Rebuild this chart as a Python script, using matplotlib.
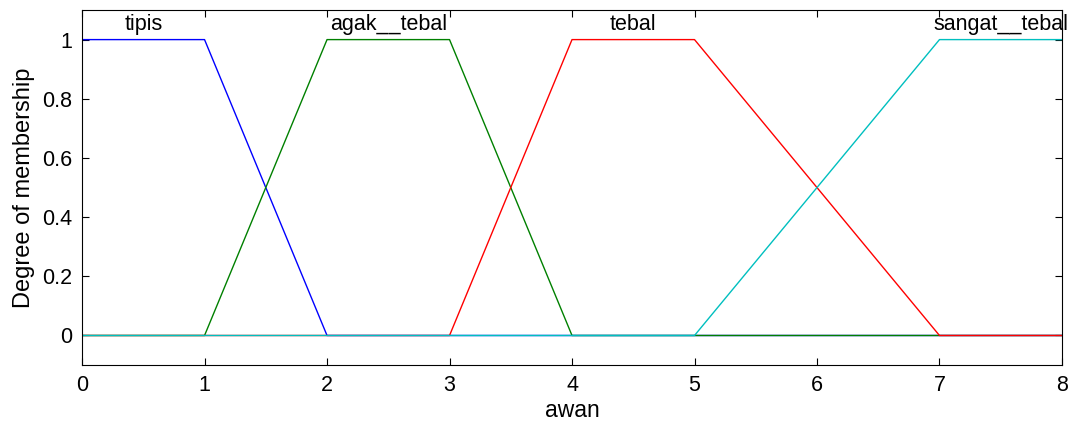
import matplotlib
matplotlib.use("Agg")
import matplotlib.pyplot as plt

plt.rcParams['font.family'] = ['Liberation Sans', 'DejaVu Sans']

# fungsi keanggotaan trapesium (titik sudut)
nama = ['tipis', 'agak__tebal', 'tebal', 'sangat__tebal']
x_tipis = [0, 1, 2, 8]
y_tipis = [1, 1, 0, 0]
x_agak = [0, 1, 2, 3, 4, 8]
y_agak = [0, 0, 1, 1, 0, 0]
x_tebal = [0, 3, 4, 5, 7, 8]
y_tebal = [0, 0, 1, 1, 0, 0]
x_sangat = [0, 5, 7, 8]
y_sangat = [0, 0, 1, 1]
pusat = [0.5, 2.5, 4.5, 7.5]

warna = ['#0000ff', '#008000', '#ff0000', '#00bfbf']

fig = plt.figure(figsize=(10.74, 4.26), dpi=100)
ax = fig.add_axes([0.0764, 0.143, 0.9124, 0.8335])

ax.plot(x_tipis, y_tipis, color=warna[0], lw=1)
ax.plot(x_agak, y_agak, color=warna[1], lw=1)
ax.plot(x_tebal, y_tebal, color=warna[2], lw=1)
ax.plot(x_sangat, y_sangat, color=warna[3], lw=1)

for n, p in zip(nama, pusat):
    ax.text(p, 1.05, n, ha='center', va='center', fontsize=15.5, zorder=1)

ax.set_xlim(0, 8)
ax.set_ylim(-0.1, 1.1)
ax.set_xticks(range(0, 9))
ax.set_yticks([0, 0.2, 0.4, 0.6, 0.8, 1])
ax.set_yticklabels(['0', '0.2', '0.4', '0.6', '0.8', '1'])
ax.tick_params(direction='in', top=True, right=True, length=5, labelsize=15.5)
ax.tick_params(axis='x', pad=7)
ax.tick_params(axis='y', pad=7)
ax.set_xlabel('awan', fontsize=16.5, labelpad=2)
ax.set_ylabel('Degree of membership', fontsize=17, labelpad=5)

fig.savefig('out.png', dpi=100)
